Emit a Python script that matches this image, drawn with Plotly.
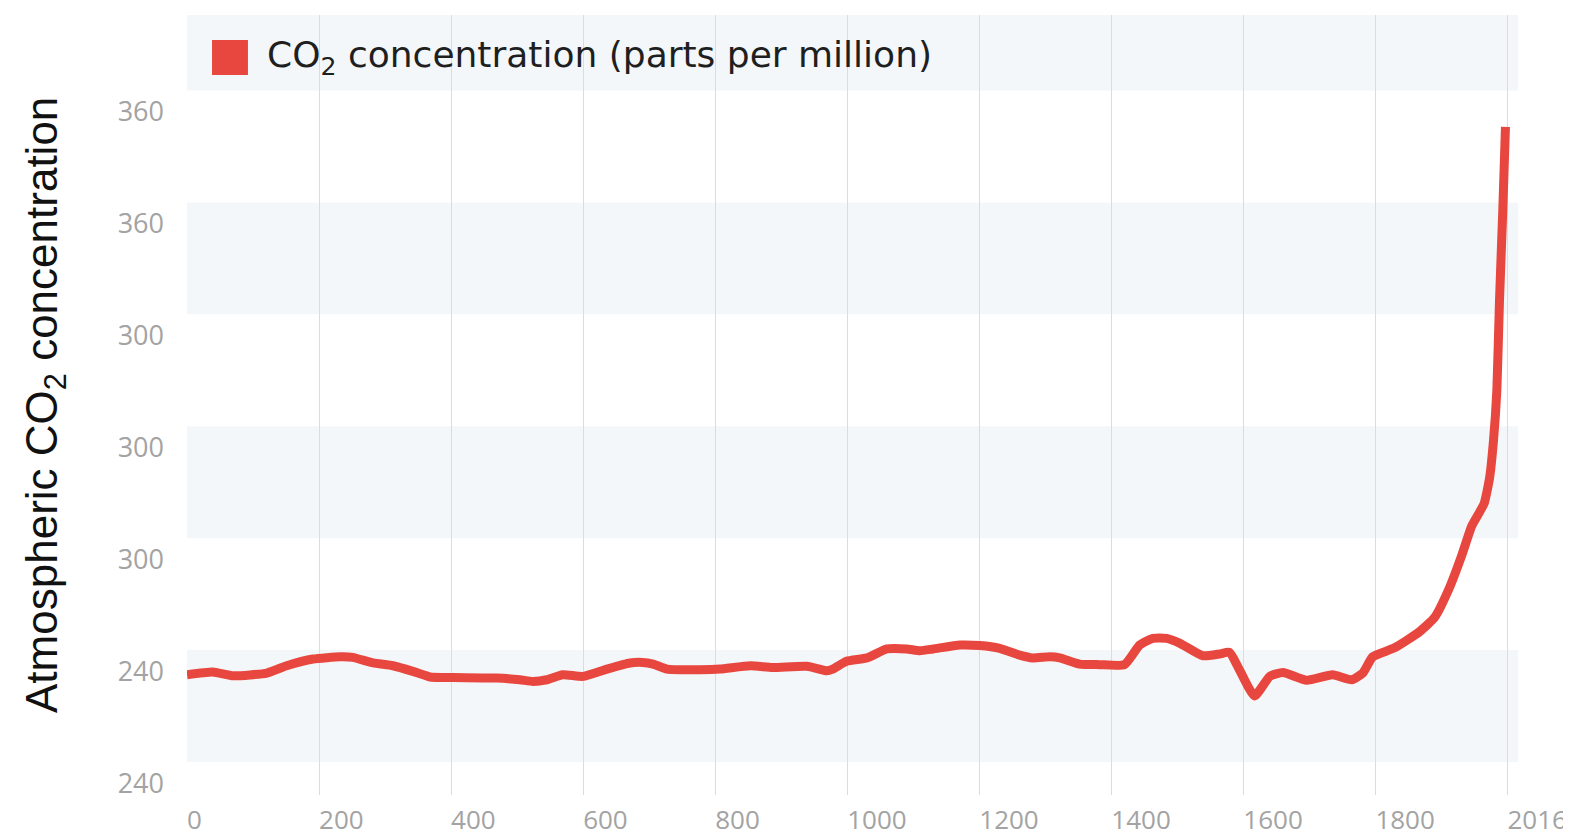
import plotly.graph_objects as go

# ---- data ----
years = [0, 39, 70, 121, 151, 191, 232, 251, 282, 312, 342, 368, 403, 469, 504, 524,
         545, 569, 600, 636, 671, 690, 706, 727, 777, 807, 853, 887, 939, 969, 978,
         999, 1030, 1060, 1090, 1110, 1130, 1171, 1201, 1231, 1261, 1281, 1307, 1322,
         1352, 1382, 1420, 1443, 1463, 1484, 1504, 1538, 1564, 1579, 1594, 1617, 1640,
         1660, 1696, 1735, 1764, 1781, 1796, 1829, 1867, 1890, 1912, 1931, 1946, 1958,
         1965, 1973, 1979, 1984, 1988, 1993, 1997]
co2_ppm = [259.4, 259.9, 259.2, 259.7, 261.0, 262.2, 262.6, 262.5, 261.5, 261.0, 260.0,
           259.0, 258.9, 258.8, 258.5, 258.2, 258.5, 259.4, 259.1, 260.4, 261.5, 261.6,
           261.3, 260.4, 260.3, 260.4, 261.0, 260.7, 260.9, 260.1, 260.4, 261.8, 262.4,
           264.0, 264.0, 263.7, 264.0, 264.7, 264.6, 264.1, 262.9, 262.4, 262.6, 262.4,
           261.3, 261.2, 261.2, 264.7, 265.9, 265.9, 265.0, 262.8, 263.1, 263.4, 260.3,
           255.6, 259.1, 259.8, 258.4, 259.4, 258.5, 259.7, 262.6, 264.2, 267.1, 269.7,
           274.9, 280.8, 286.0, 288.5, 290.1, 294.6, 301.4, 310.3, 326.4, 342.5, 357.3]

x_tick_values = [0, 200, 400, 600, 800, 1000, 1200, 1400, 1600, 1800, 2000]
x_tick_labels = ["0", "200", "400", "600", "800", "1000", "1200", "1400", "1600", "1800", "2016"]
y_tick_values = [240, 260, 280, 300, 320, 340, 360]
y_tick_labels = ["240", "240", "300", "300", "300", "360", "360"]
band_edges = [243.8, 263.8, 283.8, 303.8, 323.8, 343.8, 363.8]

series_name = "CO<sub>2</sub> concentration (parts per million)"
y_title = "Atmospheric CO<sub>2</sub> concentration"

X_RANGE = [0, 2016]
Y_RANGE = [237.9, 377.3]
RED = "#e8473f"
BAND = "#f4f7fa"

fig = go.Figure()
fig.add_trace(go.Scatter(
    x=years, y=co2_ppm, mode="lines", name=series_name,
    line=dict(color=RED, width=9, shape="spline", smoothing=0.5),
    showlegend=False, hoverinfo="x+y",
))

# alternating background bands
shaded = [(band_edges[0], band_edges[1]), (band_edges[2], band_edges[3]),
          (band_edges[4], band_edges[5]), (band_edges[6], Y_RANGE[1])]
for lo, hi in shaded:
    fig.add_shape(type="rect", xref="paper", yref="y", x0=0, x1=1, y0=lo, y1=hi,
                  fillcolor=BAND, line=dict(width=0), layer="below")

# legend (square + text)
fig.add_shape(type="rect", xref="paper", yref="paper",
              x0=0.0188, x1=0.0458, y0=0.923, y1=0.968,
              fillcolor=RED, line=dict(width=0))
fig.add_annotation(xref="paper", yref="paper", x=0.0586, y=0.945,
                   xanchor="left", yanchor="middle", showarrow=False,
                   text=series_name,
                   font=dict(family="DejaVu Sans", size=36, color="#1f1f1f"))

# y-axis title
fig.add_annotation(xref="paper", yref="paper", x=-0.1067, y=0.5,
                   xanchor="center", yanchor="middle", showarrow=False,
                   textangle=-90, text=y_title,
                   font=dict(family="Liberation Sans", size=44, color="#111111"))

# page body has an 8px margin; size the figure to fill the rest of the window
fig.update_layout(
    width=1563, height=828,
    margin=dict(l=179, r=53, t=7, b=41, autoexpand=False),
    paper_bgcolor="white", plot_bgcolor="white",
    showlegend=False,
    xaxis=dict(range=X_RANGE, tickmode="array", tickvals=x_tick_values,
               ticktext=x_tick_labels, showgrid=True, gridcolor="#d9dce0",
               gridwidth=1, zeroline=False, showline=False, automargin=False,
               ticklabelposition="outside right", ticklabeloverflow="allow",
               ticks="", ticklabelstandoff=7,
               tickfont=dict(family="Open Sans", size=26, color="#a3a3a3")),
    yaxis=dict(range=Y_RANGE, tickmode="array", tickvals=y_tick_values,
               ticktext=y_tick_labels, showgrid=False, zeroline=False,
               showline=False, ticks="", ticklabelstandoff=22, automargin=False,
               tickfont=dict(family="Open Sans", size=27, color="#a3a3a3")),
)

fig.write_html("out.html")
